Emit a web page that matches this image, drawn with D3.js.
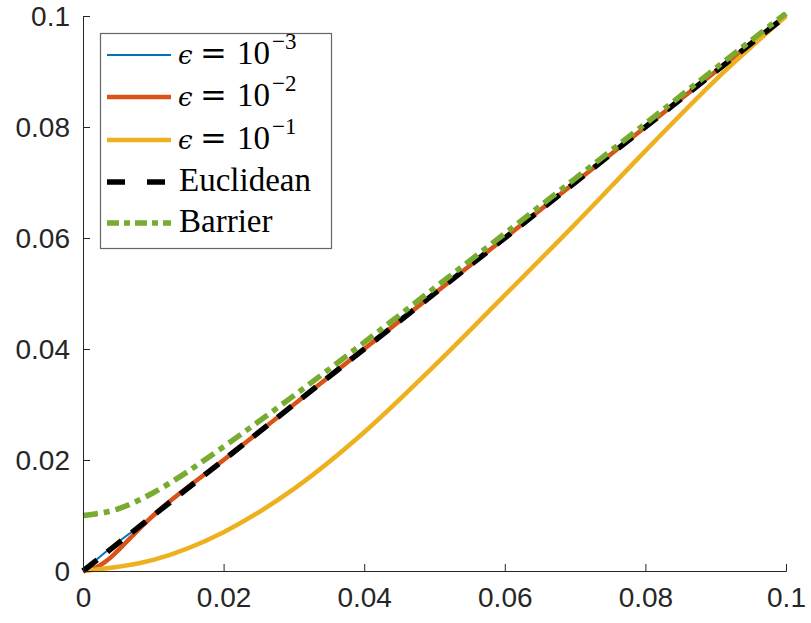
<!DOCTYPE html>
<html>
<head>
<meta charset="utf-8">
<script src="https://cdn.jsdelivr.net/npm/d3@7"></script>
<style>
  html, body { margin: 0; padding: 0; background: #fff; }
  svg { display: block; }
</style>
</head>
<body>
<svg id="chart" width="811" height="623"></svg>
<script>
// ---- data ----
const xTicks = [0, 0.02, 0.04, 0.06, 0.08, 0.1];
const yTicks = [0, 0.02, 0.04, 0.06, 0.08, 0.1];
const tickLabels = ["0", "0.02", "0.04", "0.06", "0.08", "0.1"];

const eps3X = [0, 0.0005, 0.001, 0.01, 0.05, 0.1];
const eps3Y = [0, 0.0004, 0.001, 0.01, 0.05, 0.1];

const eps2X = [0, 0.001, 0.002, 0.003, 0.004, 0.005, 0.006, 0.007, 0.008, 0.009, 0.01, 0.02, 0.05, 0.1];
const eps2Y = [0, 0.0002, 0.0007, 0.0015, 0.0025, 0.0037, 0.005, 0.0063, 0.0076, 0.0088, 0.01, 0.02, 0.05, 0.1];

const eps1X = [0, 0.01, 0.02, 0.03, 0.04, 0.05, 0.06, 0.07, 0.08, 0.09, 0.1];
const eps1Y = [0, 0.0020, 0.0070, 0.0148, 0.0250, 0.0370, 0.0497, 0.0625, 0.0757, 0.0885, 0.1];

const euclidX = [0, 0.1];
const euclidY = [0, 0.1];

const barrierX = [0, 0.005, 0.01, 0.015, 0.02, 0.03, 0.04, 0.05, 0.06, 0.07, 0.08, 0.09, 0.1];
const barrierY = [0.0100, 0.0112, 0.0141, 0.0180, 0.0224, 0.0316, 0.0412, 0.0510, 0.0608, 0.0707, 0.0806, 0.0906, 0.1005];

const seriesNames = ["eps3", "eps2", "eps1", "Euclidean", "Barrier"];

// ---- layout ----
const svg = d3.select("#chart");
const X0 = 83, X1 = 786, Y0 = 571, Y1 = 16;
const x = d3.scaleLinear().domain([0, 0.1]).range([X0, X1]);
const y = d3.scaleLinear().domain([0, 0.1]).range([Y0, Y1]);

const axisColor = "#262626";
const tickFont = "'Liberation Sans', Arial, Helvetica, sans-serif";
const serif = "'Liberation Serif', 'Times New Roman', serif";

svg.append("defs").append("clipPath").attr("id", "plotclip")
  .append("rect").attr("x", X0 - 4).attr("y", Y1 - 4).attr("width", X1 - X0 + 8).attr("height", Y0 - Y1 + 8);

// ---- lines ----
const styles = {
  eps3: { color: "#0072BD", width: 2, dash: null },
  eps2: { color: "#D95319", width: 4.5, dash: null },
  eps1: { color: "#EDB120", width: 4.5, dash: null },
  Euclidean: { color: "#000000", width: 5.5, dash: "18,13" },
  Barrier: { color: "#77AC30", width: 5.5, dash: "15,6,6,6" }
};
const dataFor = {
  eps3: [eps3X, eps3Y],
  eps2: [eps2X, eps2Y],
  eps1: [eps1X, eps1Y],
  Euclidean: [euclidX, euclidY],
  Barrier: [barrierX, barrierY]
};

const line = d3.line().x(d => x(d[0])).y(d => y(d[1])).curve(d3.curveMonotoneX);
const g = svg.append("g").attr("clip-path", "url(#plotclip)");
seriesNames.forEach(name => {
  const [xs, ys] = dataFor[name];
  const pts = xs.map((v, i) => [v, ys[i]]);
  const st = styles[name];
  g.append("path")
    .datum(pts)
    .attr("d", line)
    .attr("fill", "none")
    .attr("stroke", st.color)
    .attr("stroke-width", st.width)
    .attr("stroke-dasharray", st.dash)
    .attr("stroke-linejoin", "round");
});

// ---- axes ----
const xAxis = d3.axisBottom(x).tickValues(xTicks).tickSize(-7).tickPadding(16)
  .tickFormat((d, i) => tickLabels[i]);
const yAxis = d3.axisLeft(y).tickValues(yTicks).tickSize(-7).tickPadding(13)
  .tickFormat((d, i) => tickLabels[i]);

const gx = svg.append("g").attr("transform", `translate(0,${Y0})`).call(xAxis);
const gy = svg.append("g").attr("transform", `translate(${X0},0)`).call(yAxis);
[gx, gy].forEach(ax => {
  ax.select(".domain").attr("stroke", axisColor).attr("stroke-width", 1);
  ax.selectAll(".tick line").attr("stroke", axisColor).attr("stroke-width", 1);
  ax.selectAll(".tick text").attr("fill", axisColor)
    .style("font-family", tickFont).style("font-size", "28px");
});
gx.selectAll(".tick text").attr("dy", "0.71em");
gy.selectAll(".tick text").attr("dy", "0.35em");

// ---- legend ----
const leg = svg.append("g");
leg.append("rect").attr("x", 100.5).attr("y", 33.5).attr("width", 231).attr("height", 215)
  .attr("fill", "#fff").attr("stroke", "#666").attr("stroke-width", 1.2);

const baselines = [64, 106, 149, 191, 232];
const exps = ["−3", "−2", "−1"];
seriesNames.forEach((name, i) => {
  const st = styles[name];
  const ly = baselines[i] - 9;
  leg.append("line").attr("x1", 107).attr("x2", 171).attr("y1", ly).attr("y2", ly)
    .attr("stroke", st.color).attr("stroke-width", st.width)
    .attr("stroke-dasharray", name === "Barrier" ? "12,5,6,5" : (name === "Euclidean" ? "18,22" : null));
  const t = leg.append("text").attr("y", baselines[i])
    .style("font-family", serif).style("font-size", "33px").attr("fill", "#000");
  if (i < 3) {
    t.append("tspan").attr("x", 178).style("font-family", "'DejaVu Serif', serif").style("font-style", "italic").style("font-size", "26px").text("ϵ");
    t.append("tspan").attr("x", 200).style("font-family", "'DejaVu Serif', serif").style("font-size", "32px").text("=");
    t.append("tspan").attr("x", 237).text("10");
    t.append("tspan").attr("x", 272).attr("dy", -15).style("font-size", "23px").text(exps[i]);
  } else {
    t.append("tspan").attr("x", 179).text(name);
  }
});
</script>
</body>
</html>
